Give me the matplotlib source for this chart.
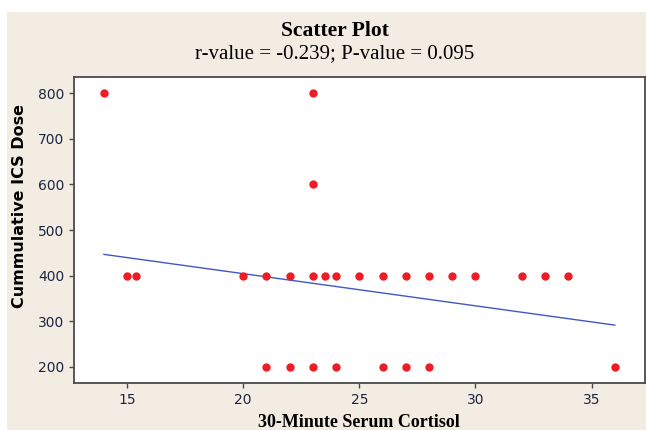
import matplotlib

matplotlib.use("Agg")
import matplotlib.pyplot as plt
import numpy as np
from matplotlib.patches import Rectangle

# cortisol (x) vs cumulative ICS dose (y)
cortisol = [14, 23, 23,
            15, 15.4, 20, 21, 22, 23, 23.5, 24, 25, 26, 27, 28, 29, 30, 32, 33, 34,
            21, 22, 23, 24, 26, 27, 28, 36]
ics_dose = [800, 800, 600,
            400, 400, 400, 400, 400, 400, 400, 400, 400, 400, 400, 400, 400, 400, 400, 400, 400,
            200, 200, 200, 200, 200, 200, 200, 200]

# fitted regression line
FIT_INTERCEPT = 545.3
FIT_SLOPE = -7.05

x_ticks = [15, 20, 25, 30, 35]
y_ticks = [200, 300, 400, 500, 600, 700, 800]

BEIGE = "#f2ece2"
RED = "#ee1c25"
BLUE = "#4257c2"
FRAME = "#4a4a4a"
TICKC = "#1c2541"

W, H = 646, 430
fig = plt.figure(figsize=(W / 100, H / 100), dpi=100, facecolor="white")
fig.patches.append(Rectangle((7 / W, 0), (W - 7) / W, (H - 12) / H,
                             transform=fig.transFigure, facecolor=BEIGE,
                             edgecolor="none", zorder=0))

ax = fig.add_axes([73.7 / W, (H - 383.3) / H, (645 - 73.7) / W, (383.3 - 76.7) / H])
ax.set_zorder(2)
ax.set_facecolor("white")

ax.plot(cortisol, ics_dose, "o", color=RED, ms=6, mec="none", zorder=3)
fx = np.array([min(cortisol), max(cortisol)])
ax.plot(fx, FIT_INTERCEPT + FIT_SLOPE * fx, color=BLUE, lw=1.0, zorder=2)

ax.set_xlim(12.7, 37.3)
ax.set_ylim(164, 836)
ax.set_xticks(x_ticks)
ax.set_yticks(y_ticks)
for s in ax.spines.values():
    s.set_color(FRAME)
    s.set_linewidth(1.3)
ax.tick_params(direction="out", length=3.8, width=1, color=FRAME,
               labelcolor=TICKC, labelsize=10, pad=3)
for lab in ax.get_xticklabels() + ax.get_yticklabels():
    lab.set_family("DejaVu Sans")

serif = "Liberation Serif"
fig.text(335 / W, 1 - 36 / H, "Scatter Plot", ha="center", va="baseline",
         family=serif, fontweight="bold", fontsize=15.5)
fig.text(335 / W, 1 - 58 / H, "r-value = -0.239; P-value = 0.095",
         ha="center", va="baseline", family=serif, fontsize=15)
fig.text(359 / W, 1 - 427 / H, "30-Minute Serum Cortisol", ha="center",
         va="baseline", family=serif, fontweight="bold", fontsize=13)
fig.text(20 / W, 1 - 206 / H, "Cummulative ICS Dose", ha="center", va="center",
         rotation=90, family="DejaVu Sans", fontweight="bold", fontsize=11.5)

fig.savefig("out.png", dpi=100, facecolor=fig.get_facecolor())
